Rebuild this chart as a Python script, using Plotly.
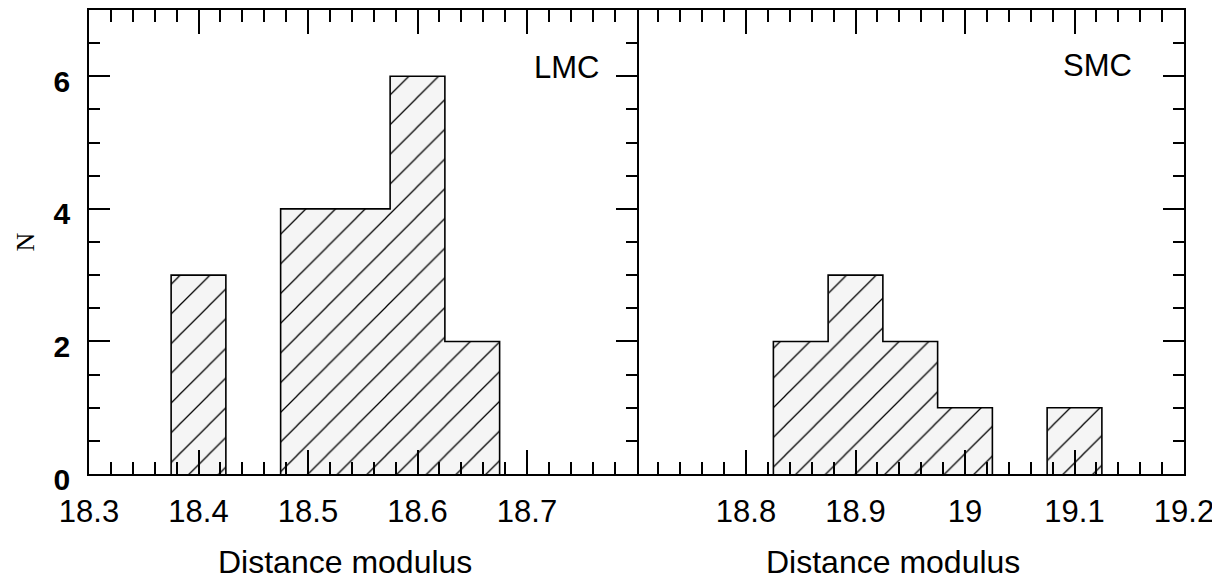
import plotly.graph_objects as go

# ---- data ----
bin_width = 0.05
lmc_centers = [18.40, 18.50, 18.55, 18.60, 18.65]
lmc_counts = [3, 4, 4, 6, 2]
smc_centers = [18.85, 18.90, 18.95, 19.00, 19.10]
smc_counts = [2, 3, 2, 1, 1]

lmc_tickvals = [18.3, 18.4, 18.5, 18.6, 18.7, 18.8]
lmc_ticktext = ["18.3", "18.4", "18.5", "18.6", "18.7", ""]
smc_tickvals = [18.7, 18.8, 18.9, 19.0, 19.1, 19.2]
smc_ticktext = ["", "18.8", "18.9", "19", "19.1", "19.2"]
y_tickvals = [0, 2, 4, 6]
y_ticktext = ["0", "2", "4", "6"]

x_title = "Distance modulus"
y_title = "N"
panel_labels = ["LMC", "SMC"]


def outline(centers, counts, w):
    xs, ys = [], []
    prev_right = None
    for c, n in sorted(zip(centers, counts)):
        left, right = c - w / 2, c + w / 2
        if prev_right is None or abs(left - prev_right) > 1e-9:
            if prev_right is not None:
                xs += [prev_right, None]
                ys += [0, None]
            xs.append(left)
            ys.append(0)
        xs += [left, right]
        ys += [n, n]
        prev_right = right
    xs.append(prev_right)
    ys.append(0)
    return xs, ys


fig = go.Figure()
pattern = dict(shape="/", size=21, solidity=0.06, fgcolor="black",
               bgcolor="#f5f5f5", fillmode="replace")

for centers, counts, xa, ya in [(lmc_centers, lmc_counts, "x", "y"),
                                (smc_centers, smc_counts, "x2", "y2")]:
    fig.add_trace(go.Bar(x=centers, y=counts, width=bin_width,
                         marker=dict(color="#f5f5f5", line=dict(width=0), pattern=pattern),
                         xaxis=xa, yaxis=ya, showlegend=False, hoverinfo="skip"))
    ox, oy = outline(centers, counts, bin_width)
    fig.add_trace(go.Scatter(x=ox, y=oy, mode="lines",
                             line=dict(color="black", width=1.6),
                             xaxis=xa, yaxis=ya, showlegend=False, hoverinfo="skip",
                             connectgaps=False))

tick_font = dict(family="Liberation Sans, Arial, sans-serif", size=31, color="black")
common_x = dict(showline=True, linecolor="black", linewidth=1.6, mirror="ticks",
                ticks="inside", ticklen=24, tickwidth=1.6, tickcolor="black",
                showgrid=False, zeroline=False, tickfont=tick_font,
                tickmode="array", ticklabelstandoff=9, fixedrange=True)
common_ymin = dict(dtick=0.5, tick0=0, ticklen=11, tickwidth=1.6, tickcolor="black",
                   ticks="inside", showgrid=False)

fig.update_layout(
    width=1212, height=573,
    margin=dict(l=81, r=36, t=0, b=107),
    paper_bgcolor="white", plot_bgcolor="white",
    bargap=0,
    xaxis=dict(domain=[0, 0.5], range=[18.3, 18.8], anchor="y",
               tickvals=lmc_tickvals, ticktext=lmc_ticktext,
               minor=dict(dtick=0.02, tick0=18.3, ticklen=12, tickwidth=1.6,
                          tickcolor="black", ticks="inside", showgrid=False),
               **common_x),
    xaxis2=dict(domain=[0.5, 1], range=[18.7, 19.2], anchor="y2",
                tickvals=smc_tickvals, ticktext=smc_ticktext,
                minor=dict(dtick=0.02, tick0=18.7, ticklen=12, tickwidth=1.6,
                           tickcolor="black", ticks="inside", showgrid=False),
                **common_x),
    yaxis=dict(domain=[0, 1], range=[0, 7], anchor="x",
               showline=True, linecolor="black", linewidth=1.6, mirror="ticks",
               ticks="inside", ticklen=21, tickwidth=1.6, tickcolor="black",
               tickmode="array", tickvals=y_tickvals, ticktext=y_ticktext,
               tickfont=dict(family="Liberation Sans, Arial, sans-serif", size=30,
                             color="black", weight="bold"),
               ticklabelstandoff=11, ticklabelshift=5,
               showgrid=False, zeroline=False, minor=common_ymin, fixedrange=True),
    yaxis2=dict(domain=[0, 1], range=[0, 7], anchor="x2", side="right",
                showline=True, linecolor="black", linewidth=1.6, mirror=False,
                ticks="inside", ticklen=21, tickwidth=1.6, tickcolor="black",
                tickmode="array", tickvals=y_tickvals, showticklabels=False,
                showgrid=False, zeroline=False, minor=common_ymin, fixedrange=True),
    annotations=[
        dict(text=x_title, xref="paper", yref="paper", x=0.2337, y=-0.189,
             xanchor="center", yanchor="middle", showarrow=False,
             font=dict(family="Liberation Sans, Arial, sans-serif", size=32, color="black")),
        dict(text=x_title, xref="paper", yref="paper", x=0.7341, y=-0.189,
             xanchor="center", yanchor="middle", showarrow=False,
             font=dict(family="Liberation Sans, Arial, sans-serif", size=32, color="black")),
        dict(text=y_title, xref="paper", yref="paper", x=-0.0589, y=0.5,
             xanchor="center", yanchor="middle", showarrow=False, textangle=-90,
             font=dict(family="Liberation Serif, Times New Roman, serif", size=26, color="black")),
        dict(text=panel_labels[0], xref="paper", yref="paper", x=0.436, y=0.876,
             xanchor="center", yanchor="middle", showarrow=False,
             font=dict(family="Liberation Sans, Arial, sans-serif", size=31, color="black")),
        dict(text=panel_labels[1], xref="paper", yref="paper", x=0.921, y=0.880,
             xanchor="center", yanchor="middle", showarrow=False,
             font=dict(family="Liberation Sans, Arial, sans-serif", size=31, color="black")),
    ],
)

fig.write_html("out.html")
